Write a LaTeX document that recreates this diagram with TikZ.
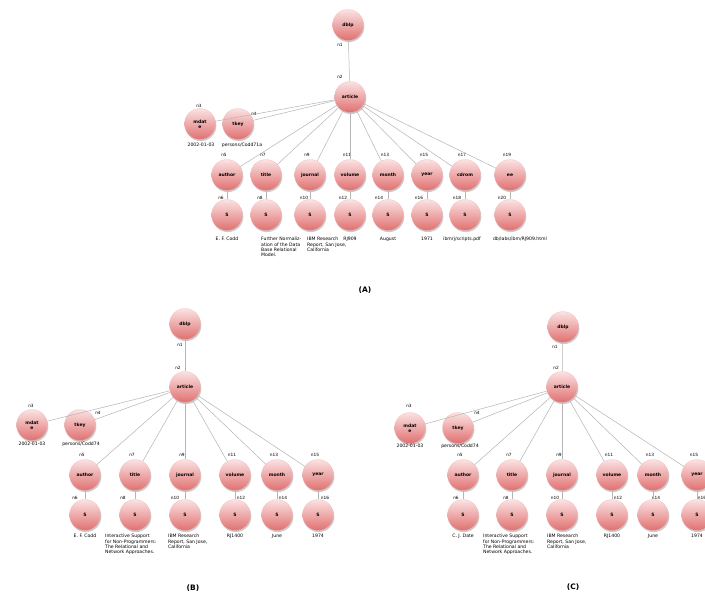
\documentclass[tikz,border=0pt]{standalone}
\usepackage{fontspec}
\setmainfont{DejaVu Sans}
\usetikzlibrary{shadows}
\definecolor{balltop}{HTML}{FBE2E2}
\definecolor{ballbot}{HTML}{E07070}
\definecolor{edgec}{HTML}{B5B5B5}
\tikzset{
 ball/.style={circle, minimum size=31pt, inner sep=0pt, top color=balltop, bottom color=ballbot,
   draw=ballbot!50!white, line width=0.2pt, font=\fontsize{4.5}{5}\selectfont\bfseries, align=center,
   drop shadow={shadow xshift=0.8pt, shadow yshift=-1.6pt, fill=black!45, opacity=0.45}},
 idl/.style={font=\fontsize{4.3}{5}\selectfont, inner sep=0pt},
 valt/.style={font=\fontsize{4.6}{5.4}\selectfont, inner sep=0pt, align=left},
 conn/.style={draw=edgec, line width=0.5pt},
 captxt/.style={font=\fontsize{7.5}{8}\selectfont\bfseries, inner sep=0pt}
}
% #1 prefix, #2 x, #3 y, #4 field, #5 field id, #6 value id, #7 value-id x offset, #8 text options, #9 text
\newcommand\fcol[9]{%
 \node[ball] (#1f) at ({#2},{#3}) {#4};
 \node[ball] (#1v) at ({#2},{#3+40}) {S};
 \node[idl] (#1fl) at ({#2-3},{#3-20}) {#5};
 \node[idl] (#1vl) at ({#2+(#7)},{#3+23}) {#6};
 \draw[conn] (\parnode) -- (#1f);
 \draw[conn] (#1f) -- (#1v);
 \node[valt,anchor=north,#8] (#1t) at ({#2},{#3+\toff}) {#9};
}
\begin{document}
\begin{tikzpicture}[x=1pt,y=-1pt]
\useasboundingbox[fill=white] (0,0) rectangle (705,597);

% ---------------- (A) ----------------
\node[ball] (dblpA) at (348,25) {dblp};
\node[ball] (artA) at (350,97) {article};
\node[idl] (n1A) at (340,45) {n1};
\node[idl] (n2A) at (340,77) {n2};
\draw[conn] (dblpA) -- (artA);
\node[ball] (mdA) at (200,124) {mdat\\e};
\node[ball] (keyA) at (238,124) {tkey};
\node[idl] (n3A) at (199,106) {n3};
\node[idl] (n4A) at (254,114) {n4};
\draw[conn] (artA) -- (mdA);
\draw[conn] (artA) -- (keyA);
\node[valt] (mdtA) at (201,145) {2002-01-03};
\node[valt] (keytA) at (242,145) {persons/Codd71a};
\def\parnode{artA}
\def\toff{62}
\fcol{a1}{227}{175}{author}{n5}{n6}{-6}{}{E. F. Codd}
\fcol{a2}{266}{175}{title}{n7}{n8}{-6}{anchor=north west,xshift=-5pt}{Further Normaliz-\\ation of the Data\\Base Relational\\Model.}
\fcol{a3}{310}{175}{journal}{n9}{n10}{-6}{anchor=north west,xshift=-3pt}{IBM Research\\Report, San Jose,\\California}
\fcol{a4}{350}{175}{volume}{n11}{n12}{-7}{}{RJ909}
\fcol{a5}{388}{175}{month}{n13}{n14}{-9}{}{August}
\fcol{a6}{427}{175}{year}{n15}{n16}{-8}{}{1971}
\fcol{a7}{465}{175}{cdrom}{n17}{n18}{-8}{xshift=-3pt}{ibmrj/scripts.pdf}
\fcol{a8}{510}{175}{ee}{n19}{n20}{-8}{xshift=10pt}{db/labs/ibm/RJ909.html}
\node[captxt] (capA) at (365,290) {(A)};

% ---------------- (B) ----------------
\node[ball] (dblpB) at (185,324) {dblp};
\node[ball] (artB) at (185,387) {article};
\node[idl] (n1B) at (180,345) {n1};
\node[idl] (n2B) at (178,368) {n2};
\draw[conn] (dblpB) -- (artB);
\node[ball] (mdB) at (32,425) {mdat\\e};
\node[ball] (keyB) at (80,425) {tkey};
\node[idl] (n3B) at (31,406) {n3};
\node[idl] (n4B) at (98,413) {n4};
\draw[conn] (artB) -- (mdB);
\draw[conn] (artB) -- (keyB);
\node[valt] (mdtB) at (32,444) {2002-01-03};
\node[valt] (keytB) at (81,444) {persons/Codd74};
\def\parnode{artB}
\def\toff{59}
\fcol{b1}{85}{475}{author}{n5}{n6}{-10}{}{E. F. Codd}
\fcol{b2}{135}{475}{title}{n7}{n8}{-12}{anchor=north west,xshift=-30pt}{Interactive Support\\for Non-Programmers:\\The Relational and\\Network Approaches.}
\fcol{b3}{185}{475}{journal}{n9}{n10}{-10}{anchor=north west,xshift=-17pt}{IBM Research\\Report, San Jose,\\California}
\fcol{b4}{235}{475}{volume}{n11}{n12}{6}{}{RJ1400}
\fcol{b5}{277}{475}{month}{n13}{n14}{6}{}{June}
\fcol{b6}{318}{475}{year}{n15}{n16}{7}{}{1974}
\node[captxt] (capB) at (193,588) {(B)};

% ---------------- (C) ----------------
\node[ball] (dblpC) at (563,327) {dblp};
\node[ball] (artC) at (562,387) {article};
\node[idl] (n1C) at (555,347) {n1};
\node[idl] (n2C) at (556,368) {n2};
\draw[conn] (dblpC) -- (artC);
\node[ball] (mdC) at (410,428) {mdat\\e};
\node[ball] (keyC) at (458,428) {tkey};
\node[idl] (n3C) at (409,406) {n3};
\node[idl] (n4C) at (477,413) {n4};
\draw[conn] (artC) -- (mdC);
\draw[conn] (artC) -- (keyC);
\node[valt] (mdtC) at (410,446) {2002-01-03};
\node[valt] (keytC) at (460,446) {persons/Codd74};
\def\parnode{artC}
\fcol{c1}{463}{475}{author}{n5}{n6}{-7}{}{C. J. Date}
\fcol{c2}{512}{475}{title}{n7}{n8}{-6}{anchor=north west,xshift=-29pt}{Interactive Support\\for Non-Programmers:\\The Relational and\\Network Approaches.}
\fcol{c3}{562}{475}{journal}{n9}{n10}{-7}{anchor=north west,xshift=-15pt}{IBM Research\\Report, San Jose,\\California}
\fcol{c4}{612}{475}{volume}{n11}{n12}{6}{}{RJ1400}
\fcol{c5}{653}{475}{month}{n13}{n14}{3}{}{June}
\fcol{c6}{697}{475}{year}{n15}{n16}{5}{}{1974}
\node[captxt] (capC) at (573,587) {(C)};
\end{tikzpicture}
\end{document}
